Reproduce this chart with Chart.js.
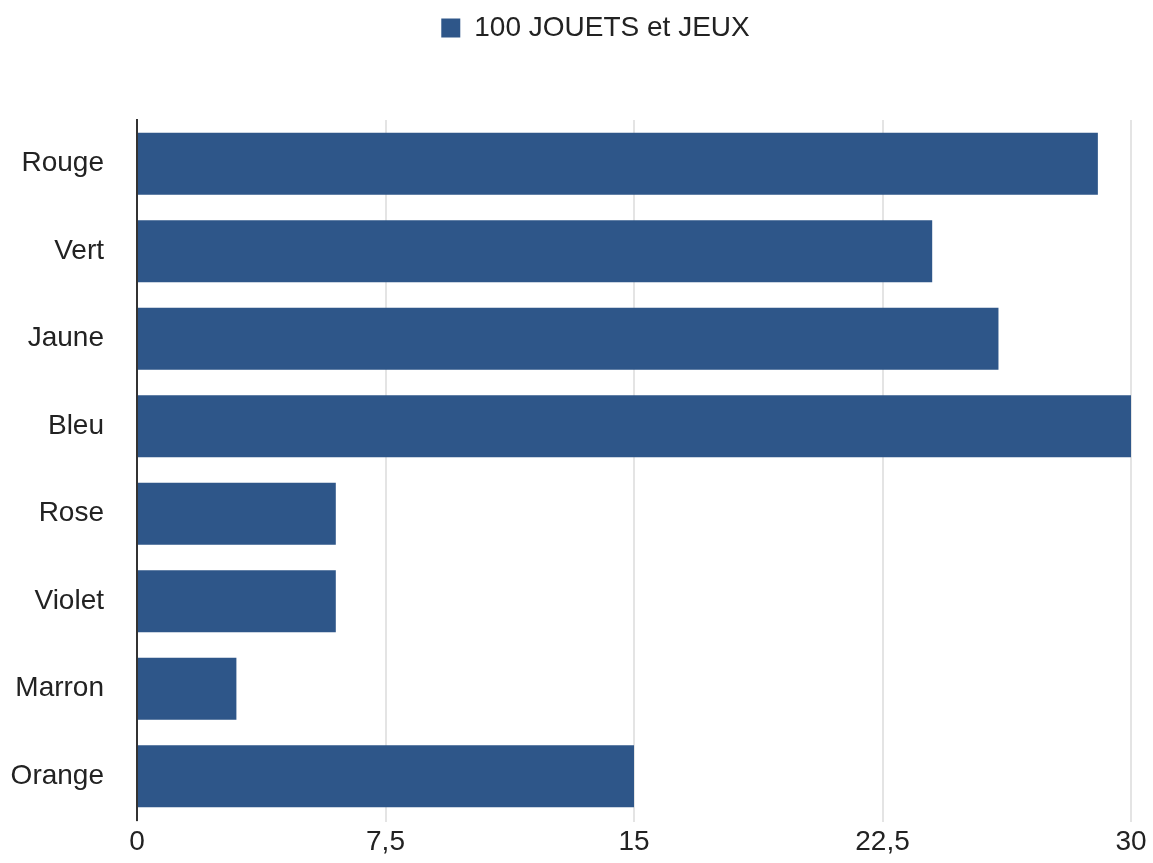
<!DOCTYPE html>
<html>
<head>
<meta charset="utf-8">
<script src="https://cdn.jsdelivr.net/npm/chart.js@4"></script>
<style>
  body { margin: 0; background: #fff; }
  #wrap { width: 1153px; height: 863px; }
</style>
</head>
<body>
<div id="wrap"><canvas id="chart"></canvas></div>
<script>
// Data
const colours = ['Rouge', 'Vert', 'Jaune', 'Bleu', 'Rose', 'Violet', 'Marron', 'Orange'];
const toyCounts = [29, 24, 26, 30, 6, 6, 3, 15];
const seriesName = '100 JOUETS et JEUX';

// make room under the legend and nudge it right a bit
const legendGap = {
    id: 'legendGap',
    beforeInit(chart) {
        const fit = chart.legend.fit;
        chart.legend.fit = function () {
            fit.bind(chart.legend)();
            this.height = 120;
        };
    },
    afterLayout(chart) {
        chart.legend.left += 60;
    }
};

const ctx = document.getElementById('chart').getContext('2d');
new Chart(ctx, {
    type: 'bar',
    data: {
        labels: colours,
        datasets: [{
            label: seriesName,
            data: toyCounts,
            backgroundColor: '#2e5689',
            borderWidth: 0,
            barPercentage: 0.71,
            categoryPercentage: 1
        }]
    },
    options: {
        indexAxis: 'y',
        responsive: true,
        maintainAspectRatio: false,
        animation: false,
        layout: { padding: { right: 22 } },
        plugins: {
            legend: {
                labels: {
                    boxWidth: 19,
                    boxHeight: 19,
                    padding: 14,
                    color: '#222',
                    font: { family: 'Liberation Sans', size: 28 }
                }
            },
            tooltip: { enabled: false }
        },
        scales: {
            x: {
                min: 0,
                max: 30,
                ticks: {
                    stepSize: 7.5,
                    color: '#222',
                    padding: 3,
                    font: { family: 'Liberation Sans', size: 28 },
                    callback: v => String(v).replace('.', ',')
                },
                grid: { color: '#e4e4e4', lineWidth: 2, tickLength: 2 },
                border: { display: false },
                afterFit(scale) { scale.height = 43; }
            },
            y: {
                ticks: {
                    color: '#222',
                    padding: 25,
                    font: { family: 'Liberation Sans', size: 28 }
                },
                grid: { display: false },
                border: { color: '#333', width: 2 },
                afterFit(scale) { scale.width = 137; }
            }
        }
    },
    plugins: [legendGap]
});
</script>
</body>
</html>
